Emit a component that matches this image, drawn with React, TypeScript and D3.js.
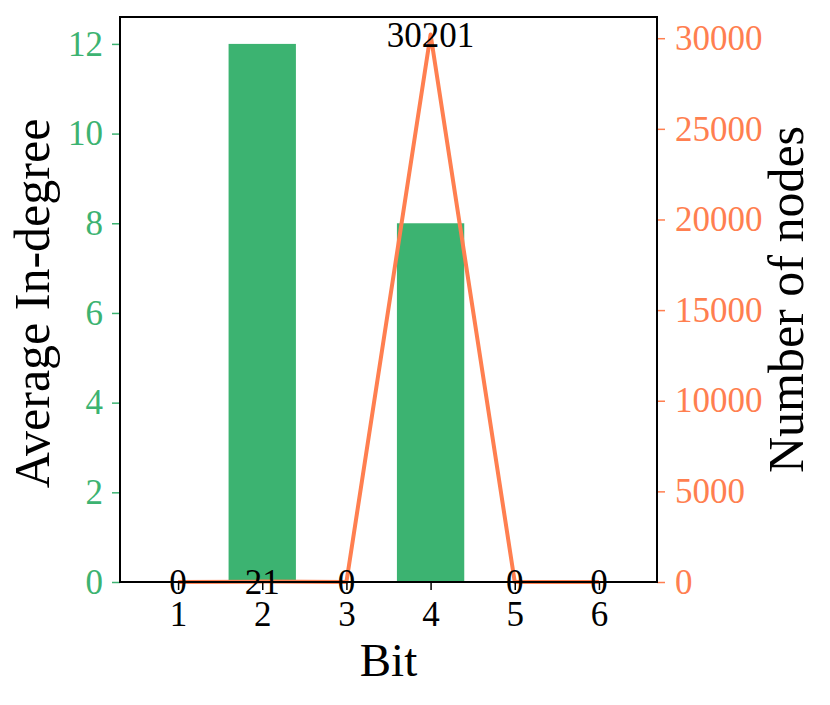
import React, { useEffect, useRef } from "react";
import * as d3 from "d3";

const bits = [1, 2, 3, 4, 5, 6];
const avgInDegree = [0, 12, 0, 8, 0, 0];
const nodeCounts = [0, 21, 0, 30201, 0, 0];
const leftTicks = [0, 2, 4, 6, 8, 10, 12];
const rightTicks = [0, 5000, 10000, 15000, 20000, 25000, 30000];

const GREEN = "#3cb371";
const CORAL = "#ff7f50";
const FONT = "'Liberation Serif', 'Times New Roman', serif";

const App = () => {
    const svgRef = useRef<SVGSVGElement>(null);

    useEffect(() => {
        const width = 830, height = 705;
        const margin = { top: 17, right: 173, bottom: 123, left: 120 };
        const w = width - margin.left - margin.right;
        const h = height - margin.top - margin.bottom;

        const svg = d3.select(svgRef.current)
            .attr("width", width)
            .attr("height", height);
        svg.selectAll("*").remove();

        const g = svg.append("g")
            .attr("transform", `translate(${margin.left}, ${margin.top})`);

        const x = d3.scaleLinear().domain([0.31, 6.69]).range([0, w]);
        const yLeft = d3.scaleLinear().domain([0, 12.6]).range([h, 0]);
        const yRight = d3.scaleLinear().domain([0, 31170]).range([h, 0]);
        const barW = x(1.8) - x(1);

        // bars
        g.selectAll(".bar")
            .data(bits.map((b, i) => ({ b, v: avgInDegree[i] })))
            .enter()
            .append("rect")
            .attr("x", d => x(d.b) - barW / 2)
            .attr("y", d => yLeft(d.v))
            .attr("width", barW)
            .attr("height", d => h - yLeft(d.v))
            .attr("fill", GREEN);

        // line
        const line = d3.line<number>()
            .x((d, i) => x(bits[i]))
            .y(d => yRight(d));
        g.append("path")
            .datum(nodeCounts)
            .attr("d", line)
            .attr("fill", "none")
            .attr("stroke", CORAL)
            .attr("stroke-width", 4)
            .attr("stroke-linejoin", "round");

        // value labels
        g.selectAll(".lbl")
            .data(nodeCounts)
            .enter()
            .append("text")
            .attr("x", (d, i) => x(bits[i]))
            .attr("y", d => yRight(d) + 12)
            .attr("text-anchor", "middle")
            .attr("font-family", FONT)
            .attr("font-size", 35)
            .attr("fill", "black")
            .text(d => d);

        const styleAxis = (sel, color) => {
            sel.select(".domain").remove();
            sel.selectAll("line").attr("stroke", color).attr("stroke-width", 1.5);
            sel.selectAll("text")
                .attr("fill", color)
                .attr("font-family", FONT)
                .attr("font-size", 35);
        };

        // left axis
        const gl = g.append("g")
            .call(d3.axisLeft(yLeft).tickValues(leftTicks).tickSize(8).tickPadding(9).tickFormat(d3.format("d")));
        styleAxis(gl, GREEN);

        // right axis
        const gr = g.append("g")
            .attr("transform", `translate(${w}, 0)`)
            .call(d3.axisRight(yRight).tickValues(rightTicks).tickSize(8).tickPadding(10).tickFormat(d3.format("d")));
        styleAxis(gr, CORAL);

        // bottom axis
        const gb = g.append("g")
            .attr("transform", `translate(0, ${h})`)
            .call(d3.axisBottom(x).tickValues(bits).tickSize(8).tickPadding(11).tickFormat(d3.format("d")));
        styleAxis(gb, "black");

        // frame
        g.append("rect")
            .attr("width", w)
            .attr("height", h)
            .attr("fill", "none")
            .attr("stroke", "black")
            .attr("stroke-width", 2);

        // titles
        g.append("text")
            .attr("transform", `translate(${-71}, ${h / 2 + 4}) rotate(-90)`)
            .attr("text-anchor", "middle")
            .attr("font-family", FONT)
            .attr("font-size", 50)
            .text("Average In-degree");

        g.append("text")
            .attr("transform", `translate(${w + 146}, ${h / 2}) rotate(-90)`)
            .attr("text-anchor", "middle")
            .attr("font-family", FONT)
            .attr("font-size", 50)
            .text("Number of nodes");

        g.append("text")
            .attr("x", w / 2)
            .attr("y", h + 94)
            .attr("text-anchor", "middle")
            .attr("font-family", FONT)
            .attr("font-size", 47)
            .text("Bit");
    }, []);

    return <svg ref={svgRef} style={{ position: "absolute", left: 0, top: 0 }}></svg>;
};

export default App;
